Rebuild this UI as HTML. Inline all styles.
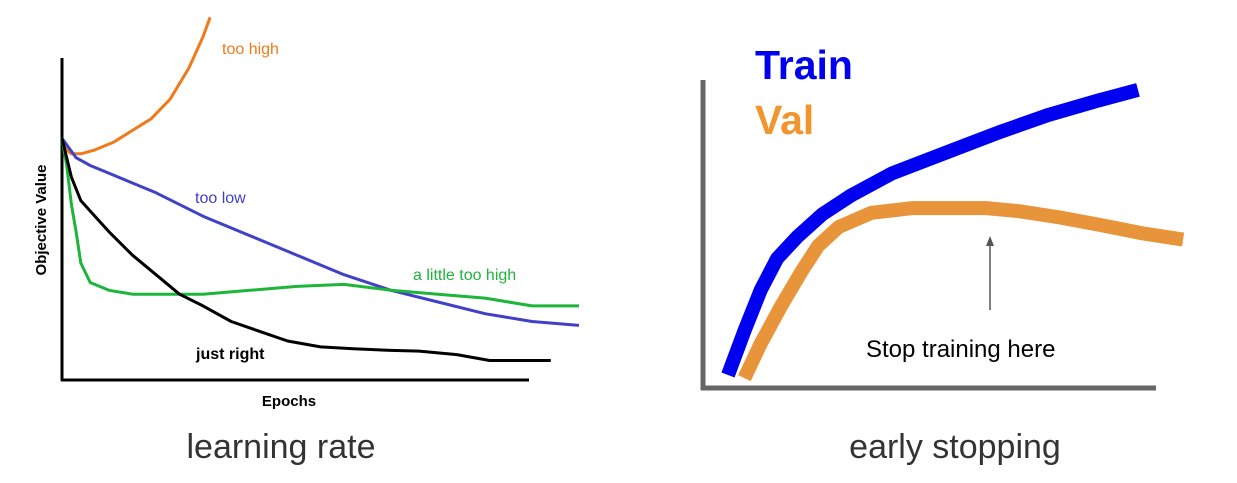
<!DOCTYPE html>
<html><head><meta charset="utf-8"><style>
html,body{margin:0;padding:0;background:#fff;}
svg{display:block;font-family:"Liberation Sans",sans-serif;}
</style></head><body>
<svg width="1237" height="483" viewBox="0 0 1237 483">
<g id="left">
  <line x1="62" y1="58" x2="62" y2="381" stroke="#000" stroke-width="3"/>
  <line x1="61" y1="380" x2="529" y2="380" stroke="#000" stroke-width="3"/>
  <text x="46" y="220" transform="rotate(-90 46 220)" text-anchor="middle" font-size="15" font-weight="bold">Objective Value</text>
  <text x="289" y="406" text-anchor="middle" font-size="15" font-weight="bold">Epochs</text>
  <text x="222" y="54" font-size="16" fill="#f07a1a">too high</text>
  <text x="195" y="203" font-size="16" fill="#4040c8">too low</text>
  <text x="413" y="280" font-size="16" fill="#1db53a">a little too high</text>
  <text x="196" y="359" font-size="16" font-weight="bold" fill="#000">just right</text>
  <text x="281" y="458" text-anchor="middle" font-size="34" fill="#333">learning rate</text>
</g>
<g id="right">
  <line x1="703" y1="80" x2="703" y2="390" stroke="#666" stroke-width="5"/>
  <line x1="701" y1="388" x2="1156" y2="388" stroke="#666" stroke-width="5"/>
  <text x="755" y="79" font-size="41" font-weight="bold" fill="#0000f0">Train</text>
  <text x="755" y="134" font-size="41" font-weight="bold" fill="#f0962e">Val</text>
  <line x1="990" y1="310" x2="990" y2="242" stroke="#555" stroke-width="1.5"/>
  <polygon points="990,236 986,246 994,246" fill="#555"/>
  <text x="866" y="357" font-size="24" fill="#000">Stop training here</text>
  <text x="955" y="458" text-anchor="middle" font-size="34" fill="#333">early stopping</text>
</g>
</svg>
<script>
// Left chart data: epoch vs objective value
const tooHighEpochs = [0,1,2,4,7,11,15,19,23,27,30,31.5];
const tooHighVals = [62,59,58,58,59,61,64,67,72,80,88,93];
const tooLowEpochs = [0,3,6,10,20,30,40,50,60,70,80,90,100,110];
const tooLow = [62,57,55,53,48,42,37,32,27,23,20,17,15,14];
const greenEpochs = [0,1,2,3,4,6,10,15,20,30,40,50,60,70,80,90,100,110];
const littleHigh = [62,55,45,38,30,25,23,22,22,22,23,24,24.5,23,22,21,19,19];
const justRightEpochs = [0,2,4,7,10,15,20,25,30,36,42,48,55,62,70,76,84,91,104];
const justRight = [62,52,46,42,38,32,27,22,19,15,12.5,10,8.5,8,7.6,7.4,6.5,5,5];

function lx(e){return 62 + e*4.7;}
function ly(v){return 380 - v*3.9;}

// Right chart data
const rEpochs = [0,4,8,12,17,23,30,40,54,66,78,90,100];
const train = [0,14,27,37,44,51,57,64,71,77,82.5,87,90.5];
const valEpochs = [4,8,13,18,22,27,35,45,54,63,71,81,91,101,111];
const val = [-1,10,22,33,41,47,51.5,53,53,53,52,50,47.6,45,43];
function rx(e){return 728 + e*4.1;}
function ry(v){return 375 - v*3.15;}

const NS='http://www.w3.org/2000/svg';
function path(xs, ys, fx, fy, color, w, name, parent){
  let d='';
  for(let i=0;i<xs.length;i++){ if(ys[i]==null) continue; d += (d?'L':'M') + fx(xs[i]).toFixed(1)+','+fy(ys[i]).toFixed(1); }
  const p=document.createElementNS(NS,'path');
  p.setAttribute('d',d);p.setAttribute('fill','none');p.setAttribute('stroke',color);
  p.setAttribute('stroke-width',w);p.setAttribute('stroke-linejoin','round');
  
  
  document.getElementById(parent).appendChild(p);
}
path(tooHighEpochs, tooHighVals, lx, ly, '#f07a1a', 3, 'line-too-high', 'left');
path(tooLowEpochs, tooLow, lx, ly, '#4040c8', 3, 'line-too-low', 'left');
path(greenEpochs, littleHigh, lx, ly, '#1db53a', 3, 'line-little-too-high', 'left');
path(justRightEpochs, justRight, lx, ly, '#000', 3, 'line-just-right', 'left');
path(rEpochs, train, rx, ry, '#0000f0', 14, 'line-train', 'right');
path(valEpochs, val, rx, ry, '#e8943a', 14, 'line-val', 'right');
</script>
</body></html>
